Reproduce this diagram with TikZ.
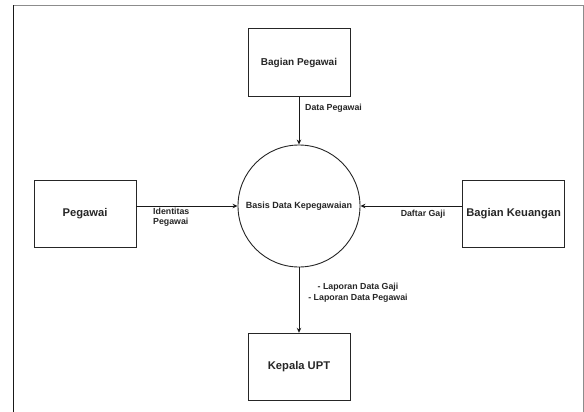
\documentclass[tikz,border=0pt]{standalone}
\usepackage{fontspec}
\setmainfont{Liberation Sans}
\usetikzlibrary{arrows.meta}
\begin{document}
\begin{tikzpicture}[x=1pt,y=-1pt,
  entity/.style={draw=black!85,line width=0.9pt,minimum width=102pt,minimum height=67.5pt,inner sep=0pt,font=\bfseries\fontsize{11.2}{13}\selectfont,text=black!85},
  proc/.style={draw=black!85,line width=0.9pt,circle,minimum size=122pt,inner sep=0pt,font=\bfseries\fontsize{9}{11}\selectfont,text=black!85},
  flow/.style={draw=black!90,line width=0.9pt,-{Stealth[length=5pt,width=4.5pt]}},
  lbl/.style={font=\bfseries\fontsize{8.8}{10.5}\selectfont,text=black!85,inner sep=0pt}]
\useasboundingbox (0,0) rectangle (584,412);
% frame
\draw[black!45,line width=1pt] (13,430) -- (13,5.5) -- (583,5.5) -- (583,430);
\draw[black!90,line width=0.8pt] (13,5.5) -- (13,430);
% nodes
\node[entity,font=\bfseries\fontsize{10}{12}\selectfont] (bp) at (299,62.5) {Bagian Pegawai};
\node[entity] (peg) at (85,214) {Pegawai};
\node[entity] (bk) at (513.7,214) {Bagian Keuangan};
\node[entity] (kupt) at (299,367) {Kepala UPT};
\node[proc] (db) at (299,206) {Basis Data Kepegawaian};
% flows
\draw[flow] (bp.south) -- (db.north);
\draw[flow] (peg.east |- db.center) -- (db.west);
\draw[flow] (bk.west |- db.center) -- (db.east);
\draw[flow] (db.south) -- (kupt.north);
% labels
\node[lbl,anchor=west] (l1) at (305,108) {Data Pegawai};
\node[lbl,anchor=west,align=left] (l2) at (153,217) {Identitas\\Pegawai};
\node[lbl] (l3) at (423,214) {Daftar Gaji};
\node[lbl,align=center] (l4) at (358,292.5) {- Laporan Data Gaji\\- Laporan Data Pegawai};
\end{tikzpicture}
\end{document}
